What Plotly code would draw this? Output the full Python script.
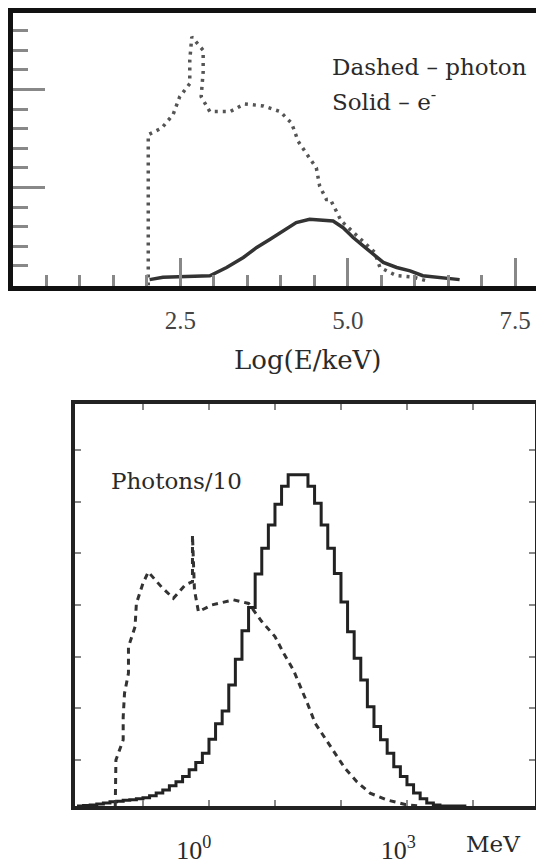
import plotly.graph_objects as go

# ---------------- Top panel data (x = Log(E/keV), y = arbitrary counts) ----------------
top_photon_x = [2.02, 2.02, 2.22, 2.39, 2.49, 2.64, 2.64, 2.67, 2.84, 2.84, 2.81, 2.94, 3.24,
                3.46, 3.74, 3.99, 4.16, 4.26, 4.41, 4.53, 4.58, 4.68, 4.74, 4.90, 5.18, 5.40,
                5.48, 5.73, 5.97, 6.22]
top_photon_y = [0.0, 7.69, 8.03, 8.71, 9.63, 10.3, 11.5, 12.68, 12.0, 10.9, 9.63, 8.87, 8.87,
                9.26, 9.16, 8.87, 8.28, 7.35, 6.59, 6.0, 5.07, 4.39, 4.39, 3.3, 2.4, 1.7,
                0.92, 0.5, 0.43, 0.2]

top_e_x = [2.04, 2.24, 2.94, 3.19, 3.44, 3.64, 3.84, 4.03, 4.23, 4.43, 4.78, 4.93, 5.08,
           5.23, 5.38, 5.53, 5.73, 5.93, 6.12, 6.32, 6.67]
top_e_y = [0.30, 0.42, 0.50, 0.92, 1.43, 1.94, 2.36, 2.78, 3.21, 3.38, 3.29, 2.95, 2.45,
           2.02, 1.60, 1.18, 0.92, 0.75, 0.50, 0.42, 0.30]

top_tick_vals = [2.5, 5.0, 7.5]
top_tick_text = ["2.5", "5.0", "7.5"]

# ---------------- Bottom panel data (x = log10(E/MeV), y = arbitrary counts) ----------------
e_bin_left_log = [-2.0, -1.9, -1.8, -1.7, -1.6, -1.5, -1.4, -1.3, -1.2, -1.1,
                  -1.0, -0.9, -0.8, -0.7, -0.6, -0.5, -0.4, -0.3, -0.2, -0.1,
                  0.0, 0.1, 0.2, 0.3, 0.4, 0.5, 0.6, 0.7, 0.8, 0.9,
                  1.0, 1.1, 1.2, 1.3, 1.4, 1.5, 1.6, 1.7, 1.8, 1.9,
                  2.0, 2.1, 2.2, 2.3, 2.4, 2.5, 2.6, 2.7, 2.8, 2.9,
                  3.0, 3.1, 3.2, 3.3, 3.4, 3.5, 3.6, 3.7, 3.8]
e_counts = [0.11, 0.12, 0.13, 0.15, 0.17, 0.19, 0.20, 0.22, 0.23, 0.25,
            0.27, 0.31, 0.36, 0.42, 0.50, 0.58, 0.68, 0.81, 0.95, 1.13,
            1.40, 1.70, 1.95, 2.45, 2.95, 3.50, 3.95, 4.60, 5.10, 5.55,
            5.95, 6.30, 6.52, 6.52, 6.52, 6.30, 5.97, 5.55, 5.10, 4.61,
            4.06, 3.48, 2.97, 2.55, 2.03, 1.65, 1.39, 1.13, 0.87, 0.68,
            0.52, 0.36, 0.25, 0.17, 0.13, 0.11, 0.11, 0.11, 0.11]

photon_log = [-1.42, -1.41, -1.30, -1.30, -1.28, -1.22, -1.22, -1.12, -1.10, -1.00, -0.92,
              -0.72, -0.54, -0.36, -0.25, -0.25, -0.22, -0.16, 0.04, 0.37, 0.60, 0.80,
              1.00, 1.13, 1.28, 1.40, 1.50, 1.61, 1.76, 1.91, 2.06, 2.24, 2.44, 2.69,
              3.00, 3.20]
photon_y = [0.11, 1.0, 1.39, 1.83, 2.29, 2.68, 3.19, 3.58, 4.03, 4.42, 4.64,
            4.35, 4.13, 4.39, 4.45, 5.35, 4.29, 3.87, 4.0, 4.10, 4.03, 3.68,
            3.39, 3.07, 2.74, 2.39, 2.07, 1.71, 1.42, 1.13, 0.84, 0.58, 0.36, 0.23,
            0.13, 0.11]

bottom_tick_vals = [0.1, 1, 10, 100, 1000, 10000]
bottom_tick_text = ["", "10<sup>0</sup>\u00a0", "", "", "\u00a010<sup>3</sup>", ""]

# ---------------- Layout helpers ----------------
# The page body adds an 8px margin, so the figure is 8px smaller than the window
# and screen positions are converted to figure fractions accordingly.
OFF = 8
W, H = 544 - OFF, 864 - OFF


def px_x(p):
    return (p - OFF) / W


def px_y(p):
    return 1 - (p - OFF) / H


SERIF = "DejaVu Serif"
TIMES = "Liberation Serif"
TXT = "#2a2a2a"

fig = go.Figure()

# Top panel traces
fig.add_trace(go.Scatter(x=top_photon_x, y=top_photon_y, mode="lines",
                         line=dict(color="#555555", width=3.5, dash="3px,5px"),
                         xaxis="x", yaxis="y", showlegend=False))
fig.add_trace(go.Scatter(x=top_e_x, y=top_e_y, mode="lines",
                         line=dict(color="#333333", width=3.5),
                         xaxis="x", yaxis="y", showlegend=False))

# Bottom panel traces
edges = e_bin_left_log + [e_bin_left_log[-1] + 0.1]
counts = e_counts + [e_counts[-1]]
fig.add_trace(go.Scatter(x=[10 ** v for v in edges], y=counts, mode="lines",
                         line=dict(color="#222222", width=3, shape="hv"),
                         xaxis="x2", yaxis="y2", showlegend=False))
fig.add_trace(go.Scatter(x=[10 ** v for v in photon_log], y=photon_y, mode="lines",
                         line=dict(color="#333333", width=3, dash="6px,5px"),
                         xaxis="x2", yaxis="y2", showlegend=False))

tick_gray = "#888888"

fig.update_layout(
    width=W, height=H,
    margin=dict(l=0, r=0, t=0, b=0),
    paper_bgcolor="white", plot_bgcolor="white",
    font=dict(family=SERIF, color=TXT),
    xaxis=dict(
        domain=[px_x(13), 1.0], anchor="y", range=[0, 7.93],
        showline=True, linewidth=5, linecolor="#111111", mirror=True,
        showgrid=False, zeroline=False, automargin=False,
        ticks="inside", tickvals=top_tick_vals, ticktext=top_tick_text,
        ticklen=28, tickwidth=2.5, tickcolor=tick_gray,
        minor=dict(ticks="inside", dtick=0.5, tick0=0, ticklen=11,
                   tickwidth=2.5, tickcolor=tick_gray, showgrid=False),
        tickfont=dict(family=TIMES, size=25, color="#444444"),
        ticklabelstandoff=8, ticklabeloverflow="allow",
    ),
    yaxis=dict(
        domain=[px_y(285.5), px_y(13)], anchor="x", range=[0, 13.9],
        showline=True, linewidth=5, linecolor="#111111", mirror=False,
        showgrid=False, zeroline=False, automargin=False,
        ticks="inside", tickvals=[5, 10], ticklen=32, tickwidth=3, tickcolor=tick_gray,
        minor=dict(ticks="inside", dtick=1, tick0=0, ticklen=15,
                   tickwidth=3, tickcolor=tick_gray, showgrid=False),
        showticklabels=False,
    ),
    xaxis2=dict(
        domain=[px_x(75), px_x(535)], anchor="y2", type="log", range=[-2.03, 4.94],
        showline=True, linewidth=4, linecolor="#222222", mirror="allticks",
        showgrid=False, zeroline=False, automargin=False,
        ticks="inside", tickvals=bottom_tick_vals, ticktext=bottom_tick_text,
        ticklen=6, tickwidth=2, tickcolor=tick_gray,
        tickfont=dict(family=TIMES, size=26, color=TXT),
        ticklabelstandoff=18, ticklabelshift=-12, ticklabeloverflow="allow",
    ),
    yaxis2=dict(
        domain=[px_y(806), px_y(404)], anchor="x2", range=[0.11, 7.89],
        showline=True, linewidth=4, linecolor="#222222", mirror="allticks",
        showgrid=False, zeroline=False, automargin=False,
        ticks="inside", tickvals=[1, 2, 3, 4, 5, 6, 7],
        ticklen=6, tickwidth=2, tickcolor=tick_gray,
        showticklabels=False,
    ),
    annotations=[
        dict(text="Dashed – photon", xref="paper", yref="paper",
             x=px_x(330), y=px_y(67), xanchor="left", yanchor="middle",
             showarrow=False, font=dict(family=SERIF, size=23, color=TXT)),
        dict(text="Solid – e<sup>-</sup>", xref="paper", yref="paper",
             x=px_x(330), y=px_y(100), xanchor="left", yanchor="middle",
             showarrow=False, font=dict(family=SERIF, size=23, color=TXT)),
        dict(text="Log(E/keV)", xref="paper", yref="paper",
             x=px_x(308), y=px_y(360), xanchor="center", yanchor="middle",
             showarrow=False, font=dict(family=SERIF, size=26, color=TXT)),
        dict(text="Photons/10", xref="paper", yref="paper",
             x=px_x(176), y=px_y(481), xanchor="center", yanchor="middle",
             showarrow=False, font=dict(family=SERIF, size=23, color=TXT)),
        dict(text="MeV", xref="paper", yref="paper",
             x=px_x(493), y=px_y(844), xanchor="center", yanchor="middle",
             showarrow=False, font=dict(family=SERIF, size=23, color=TXT)),
    ],
)

fig.write_html("out.html")
